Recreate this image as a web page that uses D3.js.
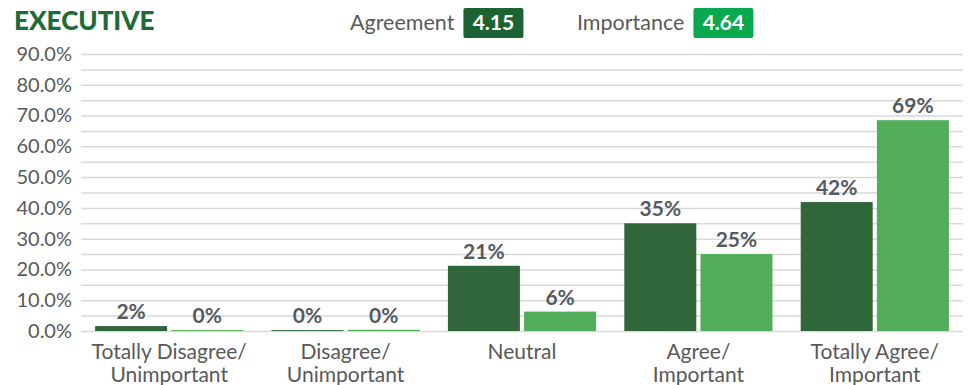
<!DOCTYPE html>
<html>
<head>
<meta charset="utf-8">
<script src="https://cdn.jsdelivr.net/npm/d3@7"></script>
<style>
  body { margin: 0; background: #fff; }
  .chart { width: 969px; height: 385px; }
  text { font-family: Lato, "Open Sans", sans-serif; }
</style>
</head>
<body>
<div class="chart"></div>
<script>
// chart data
let categories = [["Totally Disagree/", "Unimportant"], ["Disagree/", "Unimportant"], ["Neutral"], ["Agree/", "Important"], ["Totally Agree/", "Important"]];
let agreement = [1.6, 0.3, 21.2, 35.0, 41.9];
let importance = [0.3, 0.4, 6.3, 25.0, 68.5];
let seriesNames = ["Agreement", "Importance"];
let seriesScores = ["4.15", "4.64"];
let yTicks = [0, 10, 20, 30, 40, 50, 60, 70, 80, 90];

let margin = { top: 54, right: 6, bottom: 54, left: 81 };
let width = 969 - margin.left - margin.right;
let height = 385 - margin.top - margin.bottom;

let barColors = ["#31653a", "#52ad5a"];
let badgeColors = ["#1b6332", "#0aa84f"];

let svg = d3.select(".chart").append("svg")
    .attr("width", 969)
    .attr("height", 385);

svg.append("text")
    .attr("x", 14)
    .attr("y", 30)
    .attr("fill", "#1e6b35")
    .attr("font-size", 26)
    .attr("font-weight", 900)
    .text("EXECUTIVE");

// legend with score badges
let legendX = [350, 577];
seriesNames.forEach((name, i) => {
    let g = svg.append("g").attr("transform", `translate(${legendX[i]},0)`);
    let t = g.append("text")
        .attr("x", 0)
        .attr("y", 30)
        .attr("fill", "#5a5a5a")
        .attr("font-size", 21.5)
        .text(name);
    let w = t.node().getComputedTextLength();
    g.append("rect")
        .attr("x", w + 9)
        .attr("y", 8)
        .attr("width", 60)
        .attr("height", 30)
        .attr("rx", 2)
        .attr("fill", badgeColors[i]);
    g.append("text")
        .attr("x", w + 39)
        .attr("y", 30)
        .attr("text-anchor", "middle")
        .attr("fill", "#fff")
        .attr("font-size", 21)
        .attr("font-weight", 700)
        .text(seriesScores[i]);
});

let plot = svg.append("g").attr("transform", `translate(${margin.left},${margin.top})`);

let xScale = d3.scaleBand()
    .domain(d3.range(categories.length))
    .range([0, width])
    .paddingInner(0.16)
    .paddingOuter(0.08);

let xInner = d3.scaleBand()
    .domain([0, 1])
    .range([0, xScale.bandwidth()])
    .paddingInner(0.055);

let yScale = d3.scaleLinear()
    .domain([0, 90])
    .range([height, 0]);

// gridlines every 5%
plot.append("g")
    .selectAll("line")
    .data(d3.range(0, 91, 5))
    .enter()
    .append("line")
    .attr("x1", 0)
    .attr("x2", width)
    .attr("y1", d => yScale(d) + 0.5)
    .attr("y2", d => yScale(d) + 0.5)
    .attr("stroke", "#d9d9d9")
    .attr("stroke-width", 1.5);

let yAxis = plot.append("g")
    .call(d3.axisLeft(yScale).tickValues(yTicks).tickSize(0).tickPadding(9).tickFormat(d => d.toFixed(1) + "%"));
yAxis.select(".domain").remove();
yAxis.selectAll("text")
    .attr("font-family", "Lato, sans-serif")
    .attr("font-size", 20)
    .attr("fill", "#595959");

let xAxis = plot.append("g")
    .attr("transform", `translate(0,${height})`)
    .call(d3.axisBottom(xScale).tickSize(0).tickFormat(""));
xAxis.select(".domain").remove();
xAxis.selectAll(".tick text").remove();
xAxis.selectAll(".tick").each(function(d) {
    let t = d3.select(this).append("text")
        .attr("text-anchor", "middle")
        .attr("fill", "#595959")
        .attr("font-family", "Lato, sans-serif")
        .attr("font-size", 21);
    categories[d].forEach((line, j) => {
        t.append("tspan")
            .attr("x", 0)
            .attr("y", 28 + j * 23)
            .text(line);
    });
});

let rows = categories.map((c, i) => [agreement[i], importance[i]]);

let groups = plot.selectAll(".cat")
    .data(rows)
    .enter()
    .append("g")
    .attr("class", "cat")
    .attr("transform", (d, i) => `translate(${xScale(i)},0)`);

groups.selectAll("rect")
    .data(d => d)
    .enter()
    .append("rect")
    .attr("x", (d, j) => xInner(j))
    .attr("y", d => yScale(d))
    .attr("width", xInner.bandwidth())
    .attr("height", d => height - yScale(d))
    .attr("fill", (d, j) => barColors[j]);

groups.selectAll(".val")
    .data(d => d)
    .enter()
    .append("text")
    .attr("class", "val")
    .attr("x", (d, j) => xInner(j) + xInner.bandwidth() / 2)
    .attr("y", d => yScale(d) - 7)
    .attr("text-anchor", "middle")
    .attr("fill", "#555a60")
    .attr("font-size", 21)
    .attr("font-weight", 700)
    .text(d => Math.round(d) + "%");
</script>
</body>
</html>
